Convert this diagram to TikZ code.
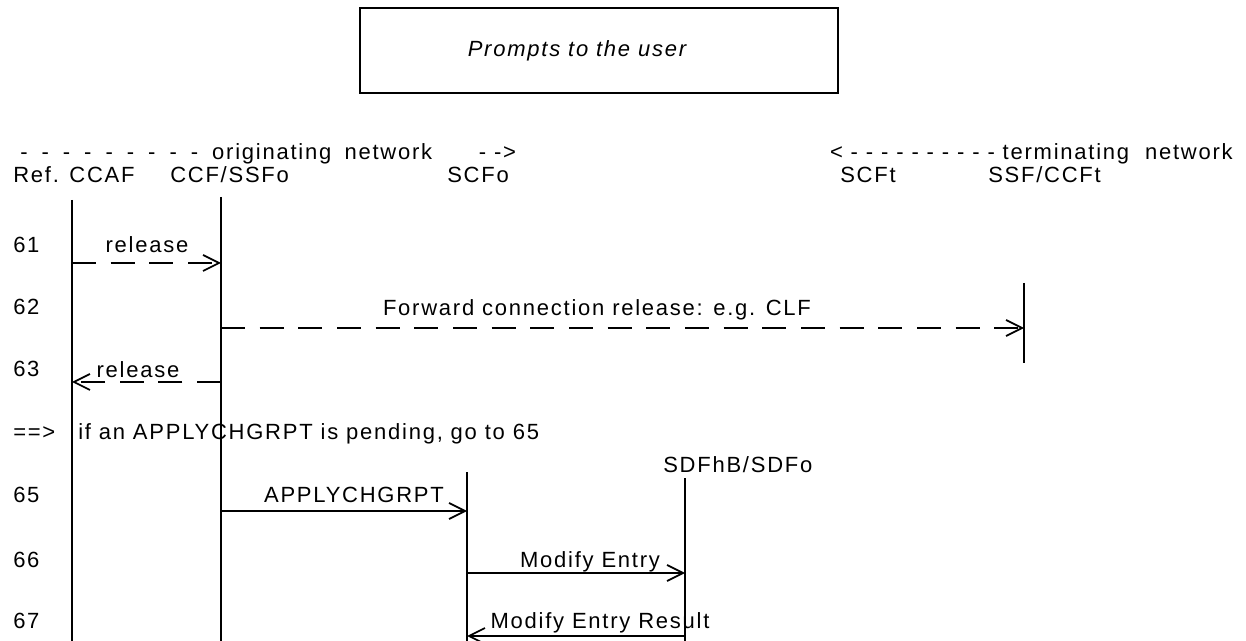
\documentclass[tikz,border=0pt]{standalone}
\usepackage{fontspec}
\setmainfont{Liberation Sans}[LetterSpace=8]
\usetikzlibrary{positioning,arrows.meta}

\begin{document}
\begin{tikzpicture}[x=0.75pt,y=-0.75pt,
txt/.style={anchor=base west, inner sep=0pt, font=\fontsize{16.5}{19}\selectfont},
msgtxt/.style={anchor=base, inner sep=0pt, font=\fontsize{16.5}{19}\selectfont},
life/.style={line width=0.8pt},
msg/.style={line width=0.8pt, -{Straight Barb[length=12pt,width=12pt,line width=1.3pt]}},
dmsg/.style={msg, dash pattern=on 18pt off 11pt},
]
\useasboundingbox (0,0) rectangle (1246,641);

% prompt box
\node[draw, line width=0.8pt, minimum width=358.5pt, minimum height=63.75pt] (promptbox) at (599,50.5) {};
\node[msgtxt, font=\fontsize{16.5}{19}\selectfont\itshape] (prompt) at (577,57) {Prompts to the user};

% network headers
\def\hd{-\hspace{10.5pt}}
\node[txt] (orig) at (20,160) {\hd\hd\hd\hd\hd\hd\hd\hd\hd originating\hspace{10pt}network\hspace{35pt}- ->};
\node[txt, anchor=base east] (term) at (1233,160) {< - - - - - - - - - - terminating\hspace{12pt}network};

% entity names
\node[txt] (ccafname) at (13,183)  {Ref. CCAF};
\node[txt] (ccfname)  at (170,183) {CCF/SSFo};
\node[txt] (scfoname) at (447,183) {SCFo};
\node[txt] (scftname) at (840,183) {SCFt};
\node[txt] (ssftname) at (988,183) {SSF/CCFt};
\node[txt] (sdfname)  at (663,472) {SDFhB/SDFo};

% row numbers
\foreach \n/\y in {61/253, 62/315, 63/377, 65/503, 66/567, 67/628}
  \node[txt] (row\n) at (13,\y) {\n};
\node[txt] (rowgo) at (13,440) {==>};

% lifelines
\coordinate (ccaftop) at (72,200);   \coordinate (ccafbot) at (72,641);
\coordinate (ccftop)  at (221,197);  \coordinate (ccfbot)  at (221,641);
\coordinate (scfotop) at (467,472);  \coordinate (scfobot) at (467,641);
\coordinate (sdftop)  at (685,478);  \coordinate (sdfbot)  at (685,641);
\coordinate (ssfttop) at (1024,283); \coordinate (ssftbot) at (1024,363);
\draw[life] (ccaftop) -- (ccafbot);
\draw[life] (ccftop) -- (ccfbot);
\draw[life] (scfotop) -- (scfobot);
\draw[life] (sdftop) -- (sdfbot);
\draw[life] (ssfttop) -- (ssftbot);

% message rows
\coordinate (r61) at (0,263);
\coordinate (r62) at (0,328);
\coordinate (r63) at (0,382);
\coordinate (r65) at (0,511);
\coordinate (r66) at (0,573);
\coordinate (r67) at (0,636);

\draw[dmsg] (ccaftop |- r61) -- (ccftop |- r61);
\draw[dmsg] (ccftop |- r62) -- (ssfttop |- r62);
\draw[dmsg] (ccftop |- r63) -- (ccaftop |- r63);
\draw[msg]  (ccftop |- r65) -- (scfotop |- r65);
\draw[msg]  (scfotop |- r66) -- (sdftop |- r66);
\draw[msg]  (sdftop |- r67) -- (scfotop |- r67);

% message labels
\node[msgtxt] (m61) at (147,253) {release};
\node[msgtxt] (m62) at (597,316) {Forward connection release: e.g. CLF};
\node[msgtxt] (m63) at (138,378) {release};
\node[txt]    (mgo) at (78,440)  {if an APPLYCHGRPT is pending, go to 65};
\node[msgtxt] (m65) at (354,503) {APPLYCHGRPT};
\node[msgtxt] (m66) at (590,567) {Modify Entry};
\node[msgtxt] (m67) at (600,628) {Modify Entry Result};

\end{tikzpicture}
\end{document}
